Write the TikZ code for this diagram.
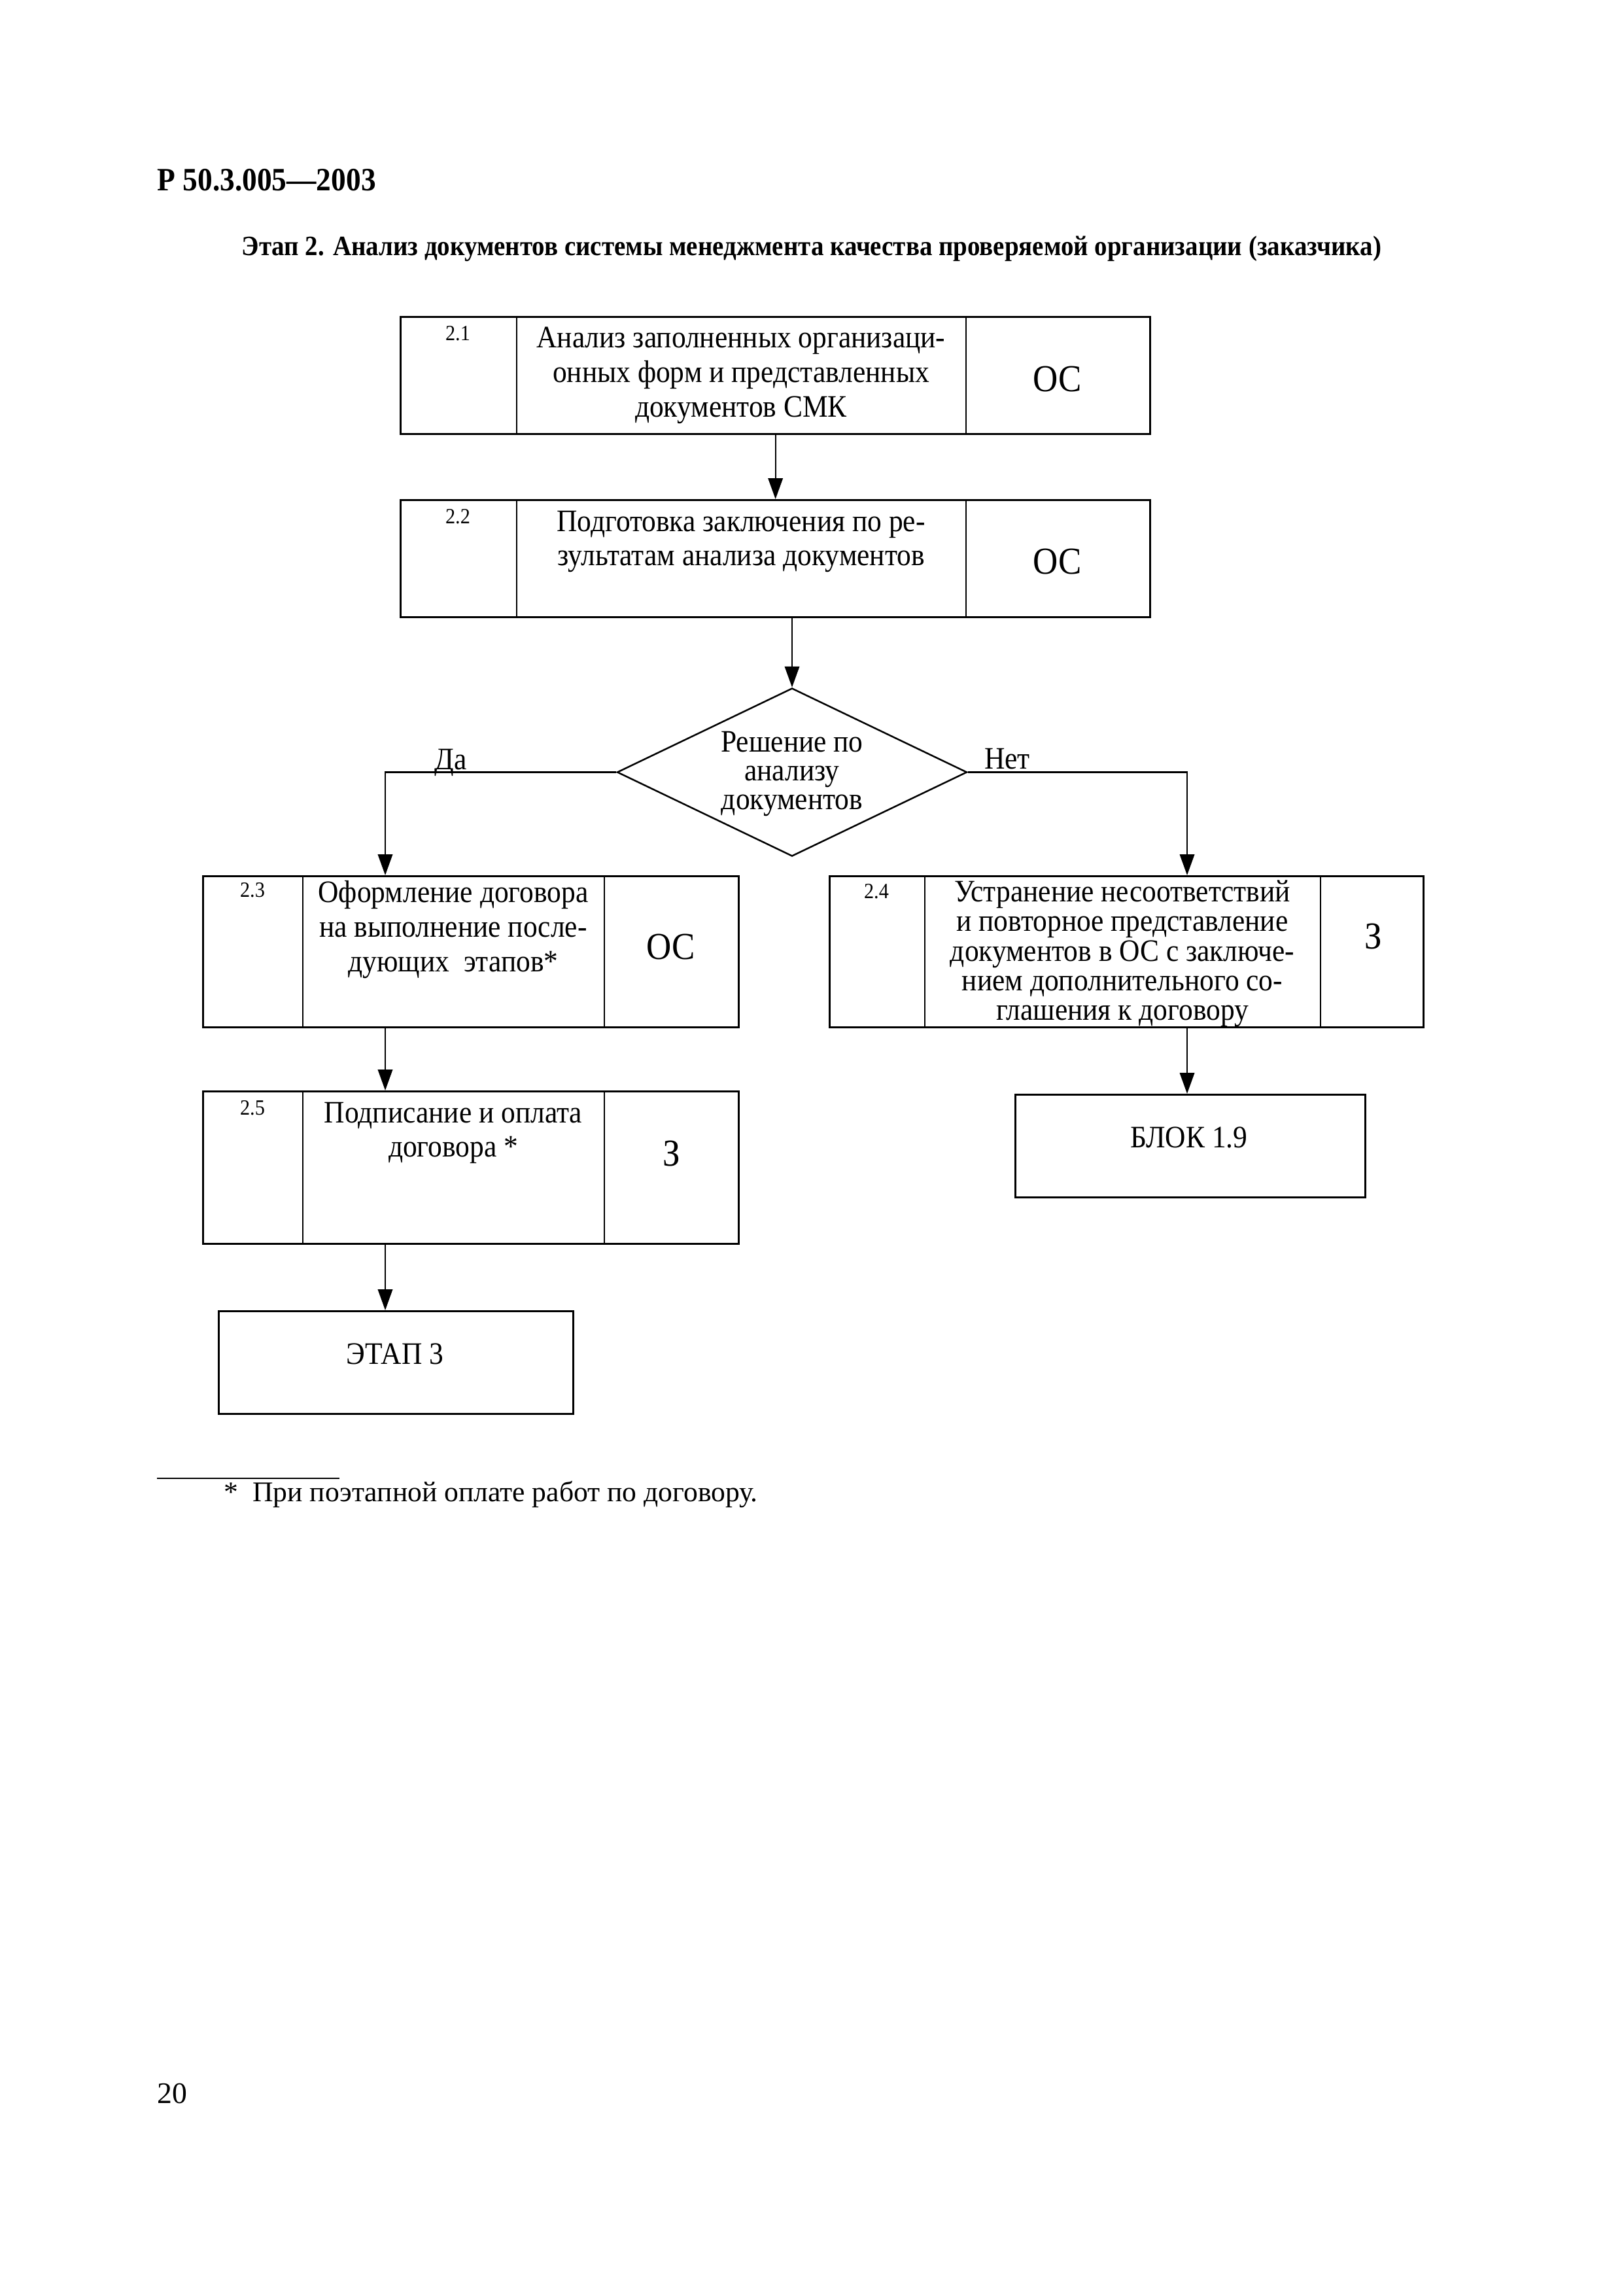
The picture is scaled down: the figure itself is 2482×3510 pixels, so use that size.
\documentclass[tikz,border=0pt]{standalone}
\usepackage{fontspec}
\setmainfont[FakeStretch=0.91]{Liberation Serif}
\newfontfamily\fnfont{Liberation Serif}
\usetikzlibrary{shapes.geometric,arrows.meta}
\def\pxu{0.084609mm}
\begin{document}
\begin{tikzpicture}[x=0.084609mm,y=-0.084609mm,
  box/.style={draw,line width=0.8pt,inner sep=0pt,anchor=north west},
  divider/.style={line width=0.6pt},
  arr/.style={-{Triangle[length=2.7mm,width=1.9mm]},line width=0.5pt},
  btext/.style={align=center,inner sep=0pt,font=\fontsize{11.5}{12.7}\selectfont},
  num/.style={inner sep=0pt,font=\fontsize{8}{9}\selectfont},
  who/.style={inner sep=0pt,font=\fontsize{14}{16}\selectfont},
  lbl/.style={inner sep=0pt,font=\fontsize{11.5}{13}\selectfont}]
\useasboundingbox (0,0) rectangle (2482,3510);
\fill[white] (0,0) rectangle (2482,3510);

% header and title
\node[anchor=west,inner sep=0pt,font=\fontsize{12}{14}\selectfont\bfseries] (hdr) at (240,275) {Р 50.3.005—2003};
\node[inner sep=0pt,font=\fontsize{10.3}{12}\selectfont\bfseries] (ttl) at (1241,380) {Этап 2. Анализ документов системы менеджмента качества проверяемой организации (заказчика)};

% box 2.1
\node[box,minimum width={1146*\pxu},minimum height={179*\pxu}] (b21) at (611,483) {};
\draw[divider] (790,483) -- (790,662);
\draw[divider] (1477,483) -- (1477,662);
\node[num] (n21) at (700,510) {2.1};
\node[btext] (t21) at (1133,574) {Анализ заполненных организаци-\\онных форм и представленных\\документов СМК};
\node[who] (w21) at (1617,580) {ОС};

% box 2.2
\node[box,minimum width={1146*\pxu},minimum height={179*\pxu}] (b22) at (611,763) {};
\draw[divider] (790,763) -- (790,942);
\draw[divider] (1477,763) -- (1477,942);
\node[num] (n22) at (700,790) {2.2};
\node[btext] (t22) at (1133,828) {Подготовка заключения по ре-\\зультатам анализа документов};
\node[who] (w22) at (1617,859) {ОС};

% decision
\node[diamond,draw,line width=0.6pt,inner sep=0pt,minimum width={535*\pxu},minimum height={257*\pxu}] (dm) at (1211,1180.5) {};
\node[align=center,inner sep=0pt,font=\fontsize{11.5}{10.6}\selectfont] (tdm) at (1211,1183) {Решение по\\анализу\\документов};

% box 2.3
\node[box,minimum width={819*\pxu},minimum height={231*\pxu}] (b23) at (309,1338) {};
\draw[divider] (463,1338) -- (463,1569);
\draw[divider] (924,1338) -- (924,1569);
\node[num] (n23) at (386,1361) {2.3};
\node[btext] (t23) at (693,1421) {Оформление договора\\на выполнение после-\\дующих\ \ этапов*};
\node[who] (w23) at (1026,1448) {ОС};

% box 2.4
\node[box,minimum width={908*\pxu},minimum height={231*\pxu}] (b24) at (1267,1338) {};
\draw[divider] (1414,1338) -- (1414,1569);
\draw[divider] (2019,1338) -- (2019,1569);
\node[num] (n24) at (1340,1363) {2.4};
\node[btext,font=\fontsize{11.5}{10.9}\selectfont] (t24) at (1716,1458) {Устранение несоответствий\\и повторное представление\\документов в ОС с заключе-\\нием дополнительного со-\\глашения к договору};
\node[who] (w24) at (2100,1432) {З};

% box 2.5
\node[box,minimum width={819*\pxu},minimum height={233*\pxu}] (b25) at (309,1667) {};
\draw[divider] (463,1667) -- (463,1900);
\draw[divider] (924,1667) -- (924,1900);
\node[num] (n25) at (386,1694) {2.5};
\node[btext] (t25) at (693,1732) {Подписание и оплата\\договора *};
\node[who] (w25) at (1027,1764) {З};

% terminal boxes
\node[box,minimum width={535*\pxu},minimum height={157*\pxu}] (blk) at (1551,1672) {};
\node[lbl] (tblk) at (1818,1739) {БЛОК 1.9};
\node[box,minimum width={542*\pxu},minimum height={157*\pxu}] (etap) at (333,2003) {};
\node[lbl] (tetap) at (604,2070) {ЭТАП 3};

% columns
\coordinate (lcol) at (589,0);
\coordinate (rcol) at (1815,0);

% connectors
\draw[arr] (b21.south) -- (b22.north);
\draw[arr] (b22.south -| dm.north) -- (dm.north);
\draw[arr] (dm.west) -| (b23.north -| lcol);
\draw[arr] (dm.east) -| (b24.north -| rcol);
\draw[arr] (b23.south -| lcol) -- (b25.north -| lcol);
\draw[arr] (b24.south -| rcol) -- (blk.north -| rcol);
\draw[arr] (b25.south -| lcol) -- (etap.north -| lcol);

% branch labels
\node[lbl] (lda) at (689,1166) {Да};
\node[lbl] (lnet) at (1540,1160) {Нет};

% footnote
\draw[line width=0.5pt] (240,2260) -- (519,2260);
\node[anchor=west,inner sep=0pt,font=\fnfont\fontsize{10.5}{12}\selectfont] (fn) at (342,2285) {*\ \ При поэтапной оплате работ по договору.};

% page number
\node[anchor=west,inner sep=0pt,font=\fnfont\fontsize{11}{13}\selectfont] (pg) at (240,3200) {20};
\end{tikzpicture}
\end{document}
